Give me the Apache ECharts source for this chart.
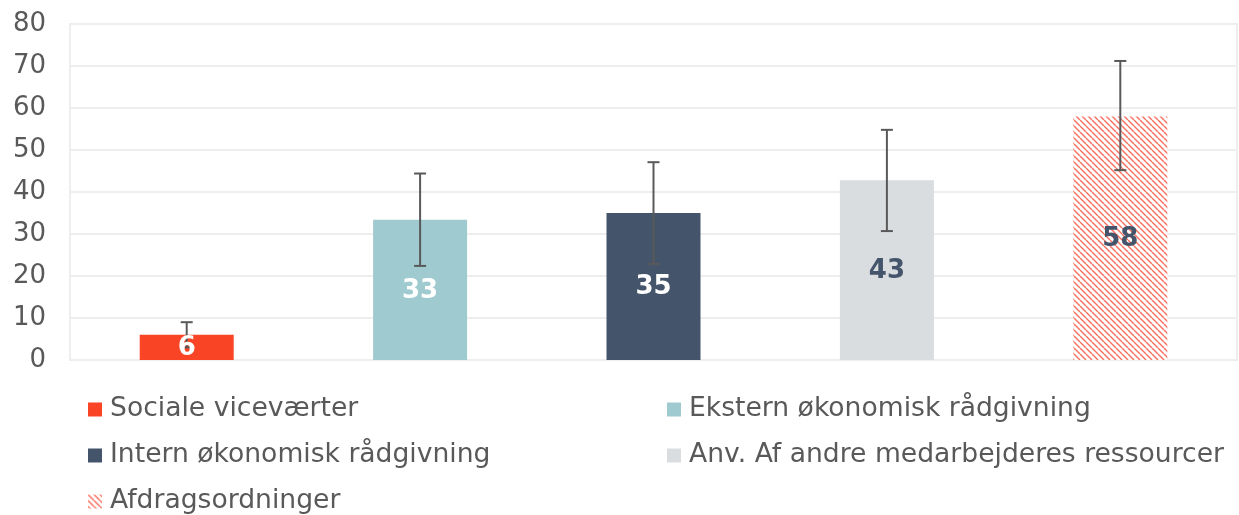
<!DOCTYPE html>
<html><head><meta charset="utf-8">
<script src="https://cdn.jsdelivr.net/npm/echarts@6/dist/echarts.min.js"></script>
<style>html,body{margin:0;padding:0;background:#fff}#c{width:1239px;height:515px}</style>
</head><body><div id="c"></div>
<script>
const categories = ['Sociale viceværter','Ekstern økonomisk rådgivning','Intern økonomisk rådgivning','Anv. Af andre medarbejderes ressourcer','Afdragsordninger'];
const values = [6, 33.4, 35, 42.8, 58];
const errLow = [3, 22.4, 22.9, 30.7, 45.2];
const errHigh = [9, 44.4, 47.1, 54.8, 71.2];
const colors = ['#F94526','#9FCBD0','#44546A','#D9DDE0', null];
const labelColors = ['#ffffff','#ffffff','#ffffff','#44546A','#44546A'];
const yTicks = [0,10,20,30,40,50,60,70,80];

// hatch pattern
const pc = document.createElement('canvas');
pc.width = 6; pc.height = 6;
const px = pc.getContext('2d');
px.fillStyle = '#ffffff'; px.fillRect(0,0,6,6);
px.strokeStyle = '#FA6F5D'; px.lineWidth = 1.4;
for (let k = -6; k <= 12; k += 6) {
  px.beginPath(); px.moveTo(k, 0); px.lineTo(k + 6, 6); px.stroke();
}
const hatch = {image: pc, repeat: 'repeat'};

const chart = echarts.init(document.getElementById('c'));
const font = 'DejaVu Sans, Verdana, sans-serif';
const series = categories.map((name, i) => ({
  name, type: 'bar', barWidth: 94, barGap: '-100%',
  data: categories.map((c, j) => j === i ? values[i] : null),
  itemStyle: {color: colors[i] || hatch},
  z: 2
}));
series.push({
  type: 'custom', name: 'err', z: 5,
  data: categories.map((c, i) => [i, errLow[i], errHigh[i]]),
  renderItem: (params, api) => {
    const lo = api.coord([api.value(0), api.value(1)]);
    const hi = api.coord([api.value(0), api.value(2)]);
    const w = 6;
    const st = {stroke: '#595959', lineWidth: 2};
    return {type: 'group', children: [
      {type: 'line', shape: {x1: hi[0], y1: hi[1], x2: lo[0], y2: lo[1]}, style: st},
      {type: 'line', shape: {x1: hi[0]-w, y1: hi[1], x2: hi[0]+w, y2: hi[1]}, style: st},
      {type: 'line', shape: {x1: lo[0]-w, y1: lo[1], x2: lo[0]+w, y2: lo[1]}, style: st}
    ]};
  }
});
series.push({
  type: 'custom', name: 'labels', z: 8,
  data: categories.map((c, i) => [i, values[i]]),
  renderItem: (params, api) => {
    const i = params.dataIndex;
    const p = api.coord([api.value(0), api.value(1) / 2]);
    return {type: 'text', x: p[0], y: p[1] + 1, style: {
      text: String(Math.round(api.value(1))), fill: labelColors[i],
      font: 'bold 26px ' + font, align: 'center', verticalAlign: 'middle'}};
  }
});
const legendCommon = {orient: 'vertical', icon: 'rect', itemWidth: 14, itemHeight: 14, itemGap: 19, padding: 0, height: 119,
  textStyle: {fontFamily: font, fontSize: 26.6, lineHeight: 26, color: '#595959', padding: [0,0,0,3]}};
chart.setOption({
  animation: false,
  grid: {left: 70, right: 2, top: 24, bottom: 155, show: true, borderColor: '#eeeeee', borderWidth: 2},
  legend: [
    Object.assign({left: 88, top: 396, data: [categories[0], categories[2], categories[4]]}, legendCommon),
    Object.assign({left: 667, top: 396, data: [categories[1], categories[3]]}, legendCommon)
  ],
  xAxis: {type: 'category', data: categories, axisLine: {show: false}, axisTick: {show: false}, axisLabel: {show: false}},
  yAxis: {type: 'value', min: yTicks[0], max: yTicks[yTicks.length-1], interval: 10,
    axisLine: {show: false}, axisTick: {show: false},
    splitLine: {lineStyle: {color: '#eeeeee', width: 2}},
    axisLabel: {fontFamily: font, fontSize: 26, color: '#595959', margin: 24}},
  series
});
</script></body></html>
